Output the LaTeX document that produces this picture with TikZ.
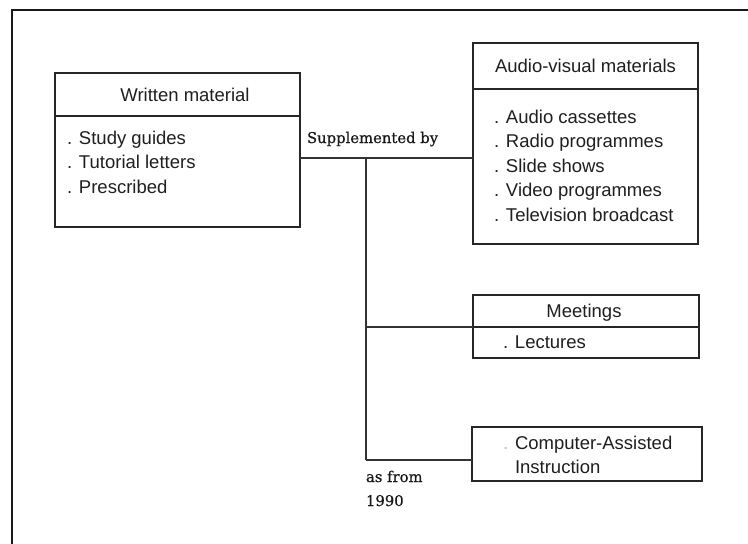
\documentclass[tikz,border=0pt]{standalone}
\usepackage{fontspec}
\setmainfont{Liberation Sans}
\newfontfamily\notefont[FakeBold=0.6]{DejaVu Serif}
\begin{document}
\begin{tikzpicture}[x=1pt,y=-1pt,
  frame/.style={draw=black!90, line width=2.4pt},
  box/.style={draw=black!85, line width=1.3pt, inner sep=0pt, outer sep=0pt,
    font=\fontsize{18.5}{24.5}\selectfont, text=black!88},
  wire/.style={draw=black!80, line width=1.2pt},
  item/.style={anchor=base west, inner sep=0pt, outer sep=0pt,
    font=\fontsize{18.5}{24.5}\selectfont, text=black!88},
  note/.style={anchor=base west, inner sep=0pt, outer sep=0pt,
    font=\notefont\fontsize{14.8}{18}\selectfont, text=black!90}]
\useasboundingbox (0,0) rectangle (748,544);
\fill[white] (0,0) rectangle (748,544);

% page frame (top and left edges)
\coordinate (fr-a) at (12,544);
\coordinate (fr-b) at (12,10);
\coordinate (fr-c) at (748,10);
\draw[frame] (fr-a) -- (fr-b) -- (fr-c);

% Written material
\node[box, minimum width=245pt, minimum height=43pt] (wm-head) at (177.5,94.5) {};
\node[box, minimum width=245pt, minimum height=111pt] (wm-body) at (177.5,171.5) {};
\node[item, anchor=base] (wm-title) at (185,101) {Written material};
\node[item] (wm-1) at (67,144) {. Study guides};
\node[item] (wm-2) at (67,168.5) {. Tutorial letters};
\node[item] (wm-3) at (67,193) {. Prescribed};

% Audio-visual materials
\node[box, minimum width=225pt, minimum height=46pt] (av-head) at (585.5,66) {};
\node[box, minimum width=225pt, minimum height=155pt] (av-body) at (585.5,166.5) {};
\node[item, anchor=base] (av-title) at (585.5,72.5) {Audio-visual materials};
\node[item] (av-1) at (494,123) {. Audio cassettes};
\node[item] (av-2) at (494,147.5) {. Radio programmes};
\node[item] (av-3) at (494,172) {. Slide shows};
\node[item] (av-4) at (494,196.5) {. Video programmes};
\node[item] (av-5) at (494,221) {. Television broadcast};

% Meetings
\node[box, minimum width=226pt, minimum height=32pt] (mt-head) at (586,311) {};
\node[box, minimum width=226pt, minimum height=31pt] (mt-body) at (586,342.5) {};
\node[item, anchor=base] (mt-title) at (584,317.5) {Meetings};
\node[item] (mt-1) at (503,348.5) {. Lectures};

% Computer-Assisted Instruction
\node[box, minimum width=230pt, minimum height=54pt] (cai) at (587,454) {};
\node[item] (cai-dot) at (503,449.5) {\color{black!25}.};
\node[item] (cai-1) at (515,449.5) {Computer-Assisted};
\node[item] (cai-2) at (515,473.5) {Instruction};

% connectors
\coordinate (split) at (366,158);
\coordinate (trunk-end) at (366,460);
\draw[wire] (wm-body.east |- split) -- (av-body.west |- split);
\draw[wire] (split) -- (trunk-end);
\draw[wire] (split |- mt-head.south) -- (mt-head.south west);
\draw[wire] (trunk-end) -- (cai.west |- trunk-end);

% connector labels
\node[note] (lbl-sup) at (307,143) {Supplemented by};
\node[note] (lbl-as) at (366,482) {as from};
\node[note] (lbl-yr) at (366,506) {1990};
\end{tikzpicture}
\end{document}
